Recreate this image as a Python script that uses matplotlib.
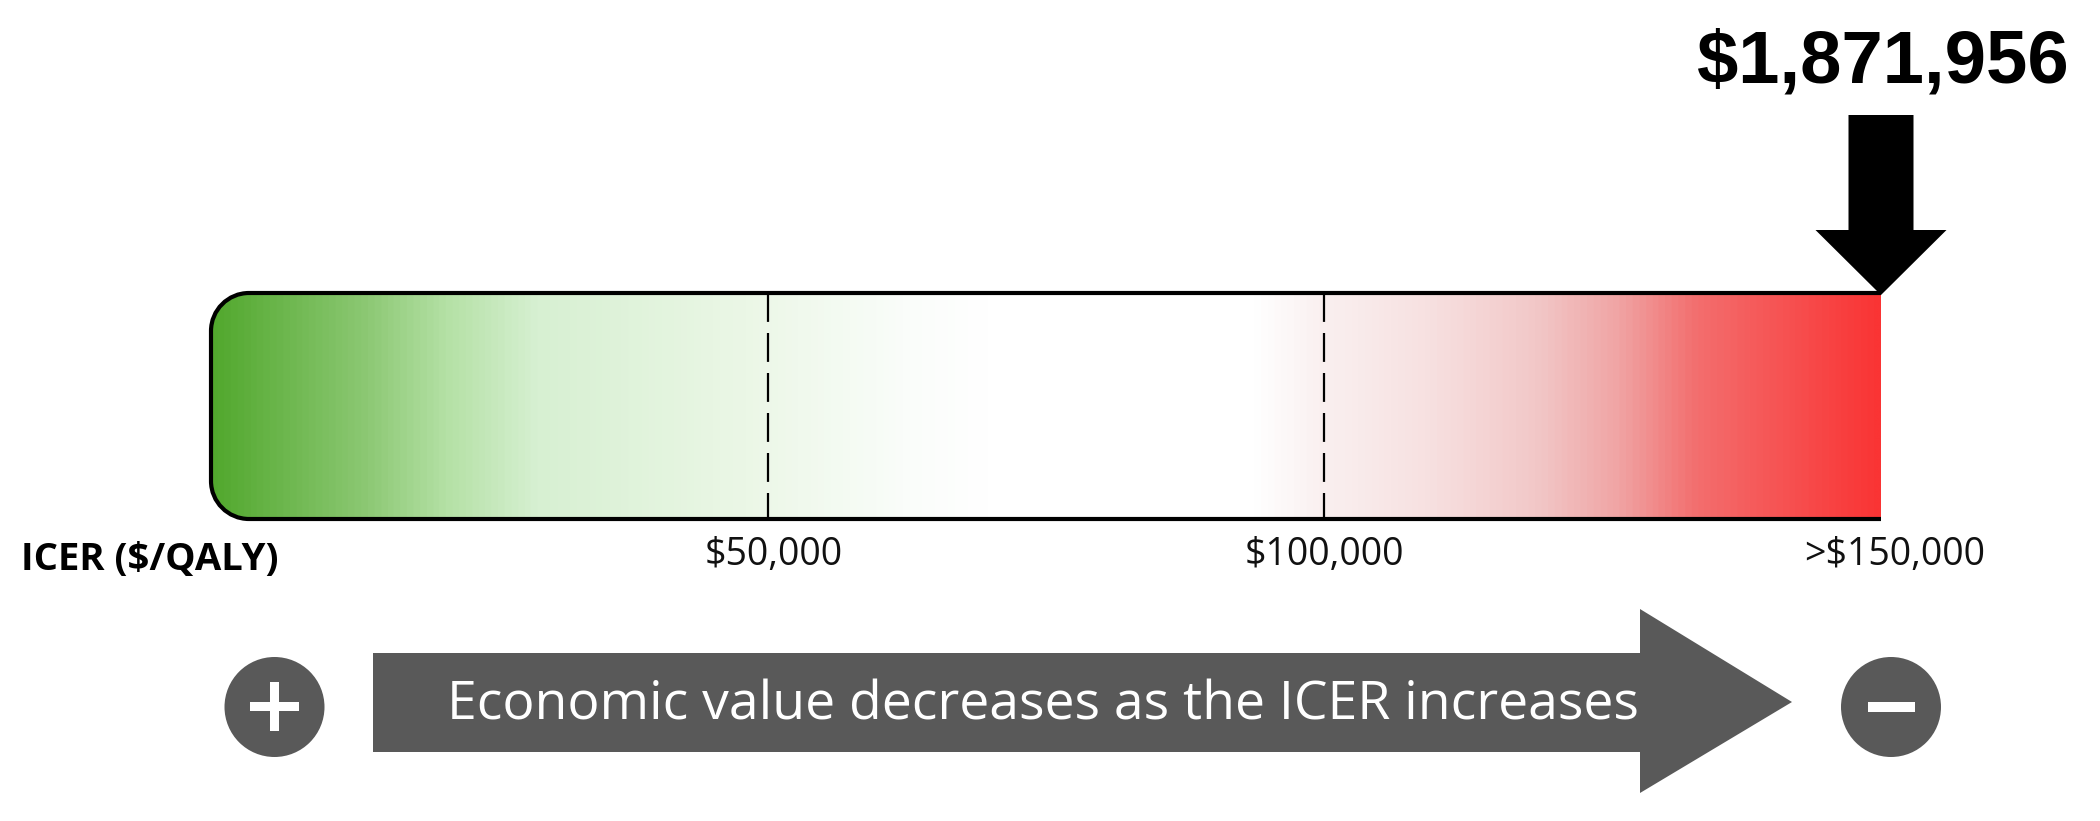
import matplotlib
matplotlib.use("Agg")
import matplotlib.pyplot as plt
import numpy as np
from matplotlib.path import Path
from matplotlib.patches import PathPatch, Polygon, Rectangle, Circle
from matplotlib.colors import LinearSegmentedColormap

# values shown on the chart
icer_value = 1871956
icer_label = "$1,871,956"
scale_max = 150000
threshold_values = [50000, 100000]
tick_values = [50000, 100000, 150000]
tick_labels = ["$50,000", "$100,000", ">$150,000"]
axis_title = "ICER ($/QALY)"
direction_text = "Economic value decreases as the ICER increases"

# colour stops of the bar (in $)
grad_pos = [0, 13650, 20930, 29190, 47700, 62340, 69600,
            93860, 99880, 109400, 119200, 126500, 133700, 150000]
grad_colors = ["#52a82e", "#8cc873", "#b4e1a5", "#d7f0d2", "#ebf7e6", "#fafdfa", "#ffffff",
               "#ffffff", "#faf0f0", "#f7e1e1", "#f2c8c8", "#f0a5a5", "#f36e6e", "#fa3434"]

W, H = 2100, 821
fig = plt.figure(figsize=(W / 100, H / 100), dpi=100)

# main axis in dollars
bar_left_px, bar_right_px = 211, 1881
px_per_dollar = (bar_right_px - bar_left_px) / scale_max
dpx = 1 / px_per_dollar  # dollars per pixel
ax = fig.add_axes([0, 0, 1, 1])
ax.axis("off")

y_top, y_bot = 293, 519
rx, ry = 38 * dpx, 38
k = 0.5523
verts = [(scale_max, y_top), (rx, y_top),
         (rx - k * rx, y_top), (0, y_top + ry - k * ry), (0, y_top + ry),
         (0, y_bot - ry),
         (0, y_bot - ry + k * ry), (rx - k * rx, y_bot), (rx, y_bot),
         (scale_max, y_bot)]
codes = [Path.MOVETO, Path.LINETO,
         Path.CURVE4, Path.CURVE4, Path.CURVE4,
         Path.LINETO,
         Path.CURVE4, Path.CURVE4, Path.CURVE4,
         Path.LINETO]

cmap = LinearSegmentedColormap.from_list(
    "icer", list(zip(np.array(grad_pos) / scale_max, grad_colors)))
xs = np.linspace(0, 1, 1500)[None, :]
im = ax.imshow(xs, cmap=cmap, extent=(0, scale_max, y_bot, y_top),
               aspect="auto", interpolation="bilinear")
clip = PathPatch(Path(verts + [verts[0]], codes + [Path.CLOSEPOLY]),
                 fc="none", ec="none", transform=ax.transData)
ax.add_patch(clip)
im.set_clip_path(clip)

ax.add_patch(PathPatch(Path(verts, codes), fc="none", ec="black", lw=3,
                       capstyle="butt", joinstyle="round"))

ax.vlines(threshold_values, y_top, y_bot, colors="black", lw=1.6,
          linestyles=[(0, (13, 5))])

label_dx = [4, 0, 10]
for v, lab, dx in zip(tick_values, tick_labels, label_dx):
    ax.annotate(lab, xy=(v, 565), xytext=(dx, 0), textcoords="offset points",
                ha="center", va="baseline", fontsize=27, family="Open Sans",
                color="#111111")

# marker arrow for the ICER
xa = min(icer_value, scale_max)
sw, hw = 32.5 * dpx, 65.5 * dpx
ax.add_patch(Polygon([(xa - sw, 115), (xa + sw, 115), (xa + sw, 230), (xa + hw, 230),
                      (xa, 295), (xa - hw, 230), (xa - sw, 230)],
                     closed=True, fc="black", ec="none"))
ax.text(xa + 2 * dpx, 82, icer_label, ha="center", va="baseline", fontsize=53.5,
        fontweight="bold", family="Liberation Sans", color="black")

ax.set_xlim(-bar_left_px * dpx, (W - bar_left_px) * dpx)
ax.set_ylim(H, 0)

# decoration layer in pixels
deco = fig.add_axes([0, 0, 1, 1])
deco.axis("off")
deco.set_xlim(0, W)
deco.set_ylim(H, 0)
gray = "#595959"

deco.text(21, 570, axis_title, ha="left", va="baseline", fontsize=27.5,
          fontweight="bold", family="Open Sans", color="black")

deco.add_patch(Polygon([(373, 653), (1640, 653), (1640, 609), (1792, 702),
                        (1640, 793), (1640, 752), (373, 752)],
                       closed=True, fc=gray, ec="none"))
deco.text(1043, 720, direction_text, ha="center", va="baseline", fontsize=38.5,
          family="Open Sans", color="white")

deco.add_patch(Circle((274.5, 707), 50, fc=gray, ec="none"))
deco.add_patch(Rectangle((250, 702.5), 49, 9, fc="white", ec="none"))
deco.add_patch(Rectangle((270, 682.5), 9, 49, fc="white", ec="none"))
deco.add_patch(Circle((1891, 707), 50, fc=gray, ec="none"))
deco.add_patch(Rectangle((1868, 702), 47, 10, fc="white", ec="none"))

fig.savefig("out.png", dpi=100)
